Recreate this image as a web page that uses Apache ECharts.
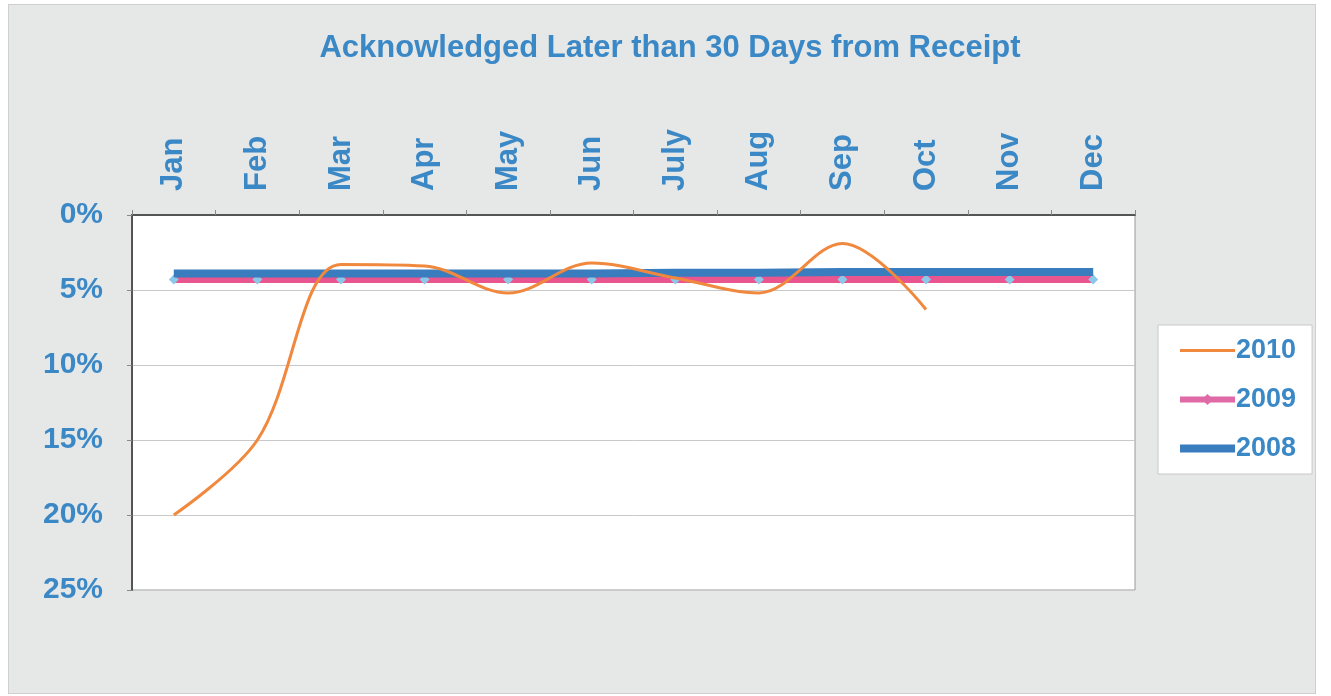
<!DOCTYPE html>
<html>
<head>
<meta charset="utf-8">
<script src="https://cdn.jsdelivr.net/npm/echarts@6/dist/echarts.min.js"></script>
<style>
  html,body{margin:0;padding:0;background:#fff;}
  #wrap{position:absolute;left:8px;top:4px;width:1306px;height:688px;background:#e6e7e7;border:1px solid #cfcfcf;}
  #chart{width:1331px;height:696px;position:absolute;left:0;top:0;}
</style>
</head>
<body>
<div id="wrap"></div>
<div id="chart"></div>
<script>
  // 数据
  const months = ['Jan','Feb','Mar','Apr','May','Jun','July','Aug','Sep','Oct','Nov','Dec'];
  const y2010 = [20.0, 15.0, 3.3, 3.4, 5.2, 3.2, 4.2, 5.2, 1.9, 6.3, null, null];
  const y2009 = [4.3, 4.3, 4.3, 4.3, 4.3, 4.3, 4.3, 4.3, 4.3, 4.3, 4.3, 4.3];
  const y2008 = [3.9, 3.9, 3.9, 3.9, 3.9, 3.9, 3.85, 3.85, 3.8, 3.8, 3.8, 3.8];
  const yTicks = [0, 5, 10, 15, 20, 25];

  const BLUE_TXT = '#3b88c6';
  const FONT = 'Liberation Sans, Arial';
  const chart = echarts.init(document.getElementById('chart'));
  chart.setOption({
    backgroundColor:'transparent',
    animation:false,
    title:{text:'Acknowledged Later than 30 Days from Receipt',left:665,top:28,textAlign:'center',
      textStyle:{color:BLUE_TXT,fontSize:31,fontWeight:'bold',fontFamily:FONT}},
    grid:{left:132,right:196,top:215,bottom:106,show:true,backgroundColor:'#fff',borderColor:'#9a9a9a',borderWidth:1},
    legend:{orient:'vertical',left:1158,top:325,itemWidth:55,itemHeight:14,itemGap:22,
      backgroundColor:'#fff',borderColor:'#c8c8c8',borderWidth:1,padding:[12,16,12,18],
      textStyle:{color:BLUE_TXT,fontSize:27,fontWeight:'bold',fontFamily:FONT,padding:[0,0,0,-4]},
      data:[
        {name:'2010',lineStyle:{color:'#f0883e',width:3},itemStyle:{opacity:0}},
        {name:'2009',lineStyle:{color:'#e06aa6',width:6},itemStyle:{color:'#e06aa6'}},
        {name:'2008',lineStyle:{color:'#3a7dbf',width:8},itemStyle:{opacity:0}}
      ]},
    xAxis:{type:'category',data:months,position:'top',boundaryGap:true,
      axisLine:{lineStyle:{color:'#555',width:2}},
      axisTick:{show:true,alignWithLabel:false,lineStyle:{color:'#888'}},
      axisLabel:{rotate:90,margin:24,color:BLUE_TXT,fontSize:31,fontWeight:'bold',fontFamily:FONT}},
    yAxis:{type:'value',inverse:true,min:yTicks[0],max:yTicks[yTicks.length-1],interval:5,
      axisLine:{show:true,lineStyle:{color:'#555',width:2}},
      axisTick:{show:true,lineStyle:{color:'#888'}},
      splitLine:{lineStyle:{color:'#c9c9c9'}},
      axisLabel:{formatter:'{value}%',margin:29,color:BLUE_TXT,fontSize:30,fontWeight:'bold',fontFamily:FONT}},
    series:[
      {name:'2010',type:'line',data:y2010,smooth:0.35,symbol:'none',z:5,connectNulls:false,
        lineStyle:{color:'#f0883e',width:3},itemStyle:{color:'#f0883e'}},
      {name:'2009',type:'line',data:y2009,symbol:'diamond',symbolSize:10,z:3,
        lineStyle:{color:'#e8558f',width:7},itemStyle:{color:'#8cc8ea'}},
      {name:'2008',type:'line',data:y2008,symbol:'none',z:4,
        lineStyle:{color:'#3a7dbf',width:8},itemStyle:{color:'#3a7dbf'}}
    ]
  });
</script>
</body>
</html>
